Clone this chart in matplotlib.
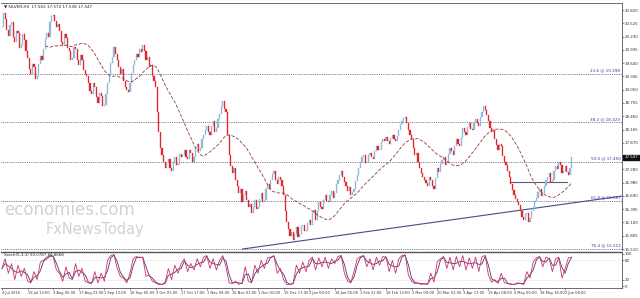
import numpy as np
import pandas as pd
import matplotlib
matplotlib.use("Agg")
import matplotlib.pyplot as plt

# ---- data (one value per ~1.6 px sample) ----
closes = [
    20.45, 20.75, 20.62, 20.38, 20.25, 20.48, 20.55, 20.22, 20.10, 20.35, 20.30, 19.98, 20.05, 20.28, 20.15, 19.90,
    19.75, 19.52, 19.40, 19.62, 19.55, 19.28, 19.35, 19.62, 19.80, 19.70, 19.95, 20.18, 20.30, 20.22, 20.55, 20.68,
    20.72, 20.58, 20.45, 20.52, 20.35, 20.12, 20.05, 20.28, 20.20, 19.98, 19.90, 19.70, 19.75, 20.00, 19.95, 19.72,
    19.60, 19.82, 19.70, 19.48, 19.40, 19.35, 19.20, 19.02, 18.95, 19.20, 19.10, 18.88, 18.75, 18.98, 18.90, 18.68,
    18.70, 18.95, 19.20, 19.40, 19.65, 19.78, 20.00, 19.85, 19.70, 19.55, 19.40, 19.50, 19.25, 19.10, 19.05, 19.00,
    19.20, 19.42, 19.60, 19.72, 19.85, 19.78, 19.95, 19.88, 20.05, 19.90, 19.70, 19.78, 19.55, 19.60, 19.35, 19.25,
    19.10, 18.55, 18.10, 17.75, 17.60, 17.45, 17.30, 17.42, 17.50, 17.30, 17.25, 17.45, 17.55, 17.38, 17.40, 17.62,
    17.55, 17.60, 17.70, 17.55, 17.50, 17.72, 17.65, 17.45, 17.55, 17.78, 17.85, 17.68, 17.75, 17.95, 18.05, 18.15,
    18.25, 18.10, 18.05, 18.25, 18.35, 18.12, 18.20, 18.40, 18.50, 18.68, 18.80, 18.62, 18.55, 18.05, 17.60, 17.35,
    17.20, 17.30, 17.05, 16.90, 16.75, 16.85, 16.55, 16.70, 16.80, 16.60, 16.45, 16.50, 16.30, 16.45, 16.60, 16.40,
    16.45, 16.62, 16.75, 16.55, 16.60, 16.85, 16.95, 16.85, 17.05, 17.18, 17.25, 17.05, 16.95, 17.12, 17.05, 16.90,
    16.70, 16.35, 16.10, 15.95, 15.80, 15.88, 15.70, 15.85, 16.00, 15.78, 15.85, 16.02, 16.05, 15.92, 15.90, 16.08,
    16.15, 16.05, 16.30, 16.38, 16.15, 16.35, 16.55, 16.45, 16.40, 16.60, 16.70, 16.58, 16.55, 16.72, 16.80, 16.65,
    16.75, 16.95, 17.05, 17.15, 17.25, 17.10, 17.00, 16.90, 16.80, 16.88, 16.70, 16.78, 16.85, 17.02, 17.15, 17.30,
    17.45, 17.55, 17.60, 17.42, 17.45, 17.60, 17.65, 17.55, 17.50, 17.68, 17.80, 17.72, 17.70, 17.88, 17.95, 17.90,
    18.00, 17.92, 17.85, 17.98, 18.05, 17.95, 17.90, 18.02, 18.15, 18.28, 18.35, 18.42, 18.45, 18.30, 18.15, 18.05,
    17.95, 17.75, 17.60, 17.65, 17.45, 17.30, 17.20, 17.12, 17.05, 16.98, 16.90, 17.10, 17.05, 16.92, 16.85, 17.08,
    17.30, 17.22, 17.40, 17.48, 17.55, 17.38, 17.45, 17.62, 17.75, 17.68, 17.60, 17.80, 17.95, 17.85, 17.80, 18.00,
    18.20, 18.12, 18.05, 18.22, 18.30, 18.18, 18.15, 18.32, 18.40, 18.30, 18.25, 18.45, 18.55, 18.68, 18.60, 18.48,
    18.35, 18.20, 18.10, 18.15, 17.95, 17.82, 17.70, 17.85, 17.80, 17.58, 17.45, 17.38, 17.25, 17.10, 16.95, 16.82,
    16.70, 16.62, 16.55, 16.48, 16.35, 16.22, 16.15, 16.28, 16.30, 16.12, 16.20, 16.35, 16.45, 16.58, 16.65, 16.78,
    16.85, 16.68, 16.75, 16.92, 17.05, 17.12, 17.20, 17.00, 17.05, 17.25, 17.35, 17.28, 17.45, 17.38, 17.20, 17.25,
    17.35, 17.22, 17.15, 17.30, 17.55,
]
# stochastic %K (one value per ~3.2 px)
stoch_k = [
    55, 85, 40, 70, 20, 65, 30, 55,
    15, 10, 45, 20, 75, 80, 90, 95,
    92, 50, 40, 15, 60, 25, 20, 70,
    30, 55, 15, 10, 8, 45, 10, 40,
    15, 80, 95, 98, 55, 30, 25, 10,
    40, 85, 92, 88, 90, 30, 35, 15,
    10, 5, 5, 12, 55, 20, 65, 40,
    70, 85, 45, 70, 50, 85, 60, 90,
    95, 55, 85, 50, 80, 95, 60, 10,
    8, 15, 5, 10, 60, 15, 10, 65,
    40, 80, 55, 88, 90, 95, 40, 55,
    20, 5, 5, 10, 65, 40, 75, 45,
    80, 90, 50, 88, 60, 90, 55, 85,
    70, 92, 95, 40, 15, 10, 45, 85,
    92, 95, 60, 85, 50, 90, 65, 92,
    90, 45, 80, 40, 85, 95, 97, 35,
    15, 8, 10, 5, 8, 5, 40, 12,
    75, 85, 92, 55, 90, 50, 92, 60,
    95, 50, 88, 55, 90, 45, 92, 95,
    35, 12, 20, 8, 40, 10, 8, 5,
    5, 10, 8, 5, 45, 25, 75, 88,
    92, 60, 90, 85, 45, 85, 90, 25,
    55, 88, 90,
]
date_labels = [
    "4 Jul 2016", "19 Jul 13:00", "3 Aug 05:00", "17 Aug 21:00", "1 Sep 13:00",
    "16 Sep 05:00", "3 Oct 01:00", "17 Oct 17:00", "1 Nov 09:00", "16 Nov 01:00",
    "1 Dec 01:00", "15 Dec 17:00", "3 Jan 09:00", "18 Jan 05:00", "1 Feb 21:00",
    "16 Feb 13:00", "3 Mar 09:00", "20 Mar 01:00", "3 Apr 17:00", "19 Apr 08:00",
    "4 May 00:00", "18 May 16:00", "2 Jun 08:00",
]
samples_per_label = 16
price_ticks = [20.820, 20.525, 20.230, 19.935, 19.640, 19.345, 19.050, 18.755,
               18.460, 18.165, 17.870, 17.280, 16.985, 16.690, 16.395, 16.100,
               15.805, 15.510]
fib_names = ["23.6", "38.2", "50.0", "61.8", "76.4"]
fib_levels = [19.398, 18.323, 17.450, 16.587, 15.512]
trend_x = [150.4, 388.1]
trend_y = [15.51, 16.69]
neck_x = [317.6, 353.2]
neck_y = [17.00, 17.00]
last_price = 17.547
title_text = "\u25bc SILVER,H4  17.562 17.572 17.538 17.547"
stoch_text = "Stoch(5,3,3) 90.0787 89.8668"
osc_ticks = [100, 80, 20, 0]

# ---- figure ----
W, H = 640, 298
fig = plt.figure(figsize=(W / 100, H / 100), dpi=100)
fig.patch.set_facecolor("white")
ax = fig.add_axes([1 / W, 1 - 250 / H, 621 / W, 247 / H])
ax2 = fig.add_axes([1 / W, 1 - 288 / H, 621 / W, 36 / H], sharex=ax)

c = np.array(closes)
o = np.concatenate([[c[0]], c[:-1]])
x = np.arange(len(c))
XMAX = 387.5

# fib lines
for name, lvl in zip(fib_names, fib_levels):
    ax.axhline(lvl, color="#55557a", lw=0.6, ls=(0, (1, 1.2)), zorder=1)
    ax.text(XMAX - 1.0, lvl + 0.03, f"{name} @ {lvl:.3f}", fontsize=3.0,
            color="#3a3aa0", ha="right", va="bottom", zorder=5)

# trendline and neckline
ax.plot(trend_x, trend_y, color="#4b4b85", lw=0.8, zorder=3)
ax.plot(neck_x, neck_y, color="#5a5a7a", lw=0.8, zorder=3)

# watermark
ax.text(1.5, 16.38, "economies.com", fontsize=12, color="#d2d2d2",
        ha="left", va="center", zorder=0.5)
ax.text(27, 15.95, "FxNewsToday", fontsize=10.5, color="#d2d2d2",
        ha="left", va="center", zorder=0.5)

# candles
up = c >= o
ax.bar(x[up], (c - o)[up], bottom=o[up], width=0.7, color="#8fbad8",
       edgecolor="#8fbad8", lw=0.25, zorder=4)
ax.bar(x[~up], (c - o)[~up], bottom=o[~up], width=0.7, color="#e3262b",
       edgecolor="#e3262b", lw=0.25, zorder=4)

# moving average
ma = pd.Series(c).rolling(28).mean()
ax.plot(x, ma, color="#8f3a3a", lw=0.6, ls=(0, (4, 2)), zorder=4.5)

ax.set_xlim(-0.6, XMAX)
ax.set_ylim(15.488, 20.976)
ax.yaxis.tick_right()
ax.set_yticks(price_ticks)
ax.set_yticklabels([f"{v:.3f}" for v in price_ticks])
ax.tick_params(axis="y", labelsize=2.9, length=1.2, width=0.4, pad=1.0,
               colors="#333333")
ax.tick_params(axis="x", bottom=False, labelbottom=False)
for s in ["left", "bottom"]:
    ax.spines[s].set_visible(False)
for s in ["top", "right"]:
    ax.spines[s].set_color("#555555")
    ax.spines[s].set_linewidth(0.6)

ax.text(1.0, 20.90, title_text, fontsize=3.0, color="#222222",
        ha="left", va="center")

# last price box
ax.annotate(f"{last_price:.3f}", xy=(1.0, last_price), xycoords=("axes fraction", "data"),
            xytext=(1.6, 0), textcoords="offset points", fontsize=2.9,
            color="white", ha="left", va="center",
            bbox=dict(boxstyle="square,pad=0.2", fc="#111111", ec="#111111"),
            annotation_clip=False)

# ---- stochastic ----
k = pd.Series(stoch_k, dtype=float)
d = k.rolling(2, min_periods=1).mean()
kx = np.arange(len(k)) * 2

ax2.axhline(80, color="#bbbbbb", lw=0.4, ls=(0, (1, 1.5)))
ax2.axhline(20, color="#bbbbbb", lw=0.4, ls=(0, (1, 1.5)))
ax2.plot(kx, d, color="#5a2d6e", lw=0.6)
ax2.plot(kx, k, color="#c8336d", lw=0.6)
ax2.set_ylim(-6, 106)
ax2.yaxis.tick_right()
ax2.set_yticks(osc_ticks)
ax2.tick_params(axis="y", labelsize=2.9, length=1.2, width=0.4, pad=1.0,
                colors="#333333")
ticks_x = [samples_per_label * j for j in range(len(date_labels))]
ax2.set_xticks(ticks_x)
ax2.set_xticklabels(date_labels, ha="left")
ax2.tick_params(axis="x", labelsize=2.6, length=1.2, width=0.4, pad=1.2,
                colors="#333333")
ax2.spines["left"].set_visible(False)
for s in ["top", "right", "bottom"]:
    ax2.spines[s].set_color("#555555")
    ax2.spines[s].set_linewidth(0.6)
ax2.spines["top"].set_linewidth(1.0)
ax2.spines["top"].set_linestyle((0, (1, 1)))
ax2.text(1.0, 96, stoch_text, fontsize=2.9, color="#222222",
         ha="left", va="center")

fig.savefig("out.png", dpi=100, facecolor="white")
